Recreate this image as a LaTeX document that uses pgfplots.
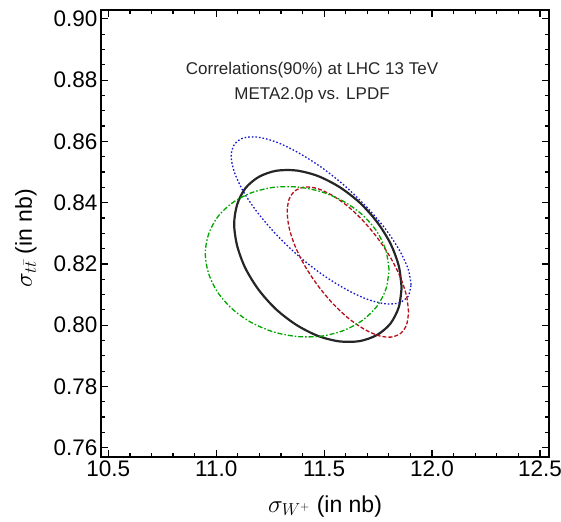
\documentclass[border=0pt]{standalone}
\usepackage{pgfplots}
\pgfplotsset{compat=1.18}
\usepackage{fontspec}
\setmainfont{Liberation Sans}
\definecolor{eblue}{rgb}{0.1,0.1,0.8}
\definecolor{ered}{rgb}{0.72,0.05,0.1}
\definecolor{egreen}{rgb}{0.0,0.65,0.0}
\begin{document}
\begin{tikzpicture}
\begin{axis}[
  scale only axis, width=448pt, height=447pt,
  xmin=10.466, xmax=12.542, ymin=0.75696, ymax=0.9029,
  axis line style={line width=1.6pt},
  tick align=inside, tick pos=both,
  major tick length=7pt, minor tick length=4pt,
  every tick/.style={black, line width=1.2pt},
  xtick={10.5,11,11.5,12,12.5},
  ytick={0.76,0.78,0.80,0.82,0.84,0.86,0.88,0.90},
  minor x tick num=4, minor y tick num=3,
  xticklabel style={/pgf/number format/.cd, fixed, fixed zerofill, precision=1},
  yticklabel style={/pgf/number format/.cd, fixed, fixed zerofill, precision=2},
  /pgf/number format/assume math mode=true,
  tick label style={font=\fontsize{22.5}{24}\selectfont, black},
  label style={font=\fontsize{23}{26}\selectfont},
  xlabel={$\sigma_{W^{+}}$ (in nb)},
  ylabel={$\sigma_{t\bar{t}}$ (in nb)},
  xlabel style={at={(axis description cs:0.5,-0.110)}, anchor=center},
  ylabel style={at={(axis description cs:-0.1674,0.49)}, anchor=center, rotate=0},
  clip=false,
]
% black: solid
\addplot[black!85, line width=2.2pt, smooth] coordinates {
(11.859,0.8122) (11.846,0.8193) (11.807,0.8267) (11.745,0.8337) (11.665,0.8400) (11.571,0.8451)
(11.471,0.8487) (11.371,0.8505) (11.277,0.8504) (11.197,0.8484) (11.135,0.8447) (11.097,0.8394)
(11.083,0.8330) (11.097,0.8259) (11.135,0.8186) (11.197,0.8115) (11.277,0.8052) (11.371,0.8001)
(11.471,0.7965) (11.571,0.7947) (11.665,0.7948) (11.745,0.7968) (11.807,0.8005) (11.846,0.8059)
(11.859,0.8122)};
% blue: dotted
\addplot[eblue, line width=1.3pt, dash pattern=on 1.6pt off 2pt, smooth] coordinates {
(11.903,0.8132) (11.889,0.8184) (11.847,0.8247) (11.781,0.8317) (11.694,0.8388) (11.594,0.8456)
(11.486,0.8516) (11.378,0.8564) (11.278,0.8598) (11.191,0.8614) (11.125,0.8611) (11.084,0.8590)
(11.069,0.8552) (11.084,0.8500) (11.125,0.8437) (11.191,0.8368) (11.278,0.8296) (11.378,0.8228)
(11.486,0.8168) (11.594,0.8120) (11.694,0.8086) (11.781,0.8070) (11.847,0.8073) (11.889,0.8094)
(11.903,0.8132)};
% red: dashed
\addplot[ered, line width=1.3pt, dash pattern=on 4pt off 2pt, smooth] coordinates {
(11.891,0.8042) (11.882,0.8095) (11.854,0.8155) (11.809,0.8219) (11.751,0.8281) (11.683,0.8339)
(11.610,0.8388) (11.537,0.8424) (11.469,0.8446) (11.411,0.8451) (11.366,0.8439) (11.338,0.8412)
(11.329,0.8370) (11.338,0.8317) (11.366,0.8257) (11.411,0.8193) (11.469,0.8131) (11.537,0.8073)
(11.610,0.8024) (11.683,0.7988) (11.751,0.7966) (11.809,0.7961) (11.854,0.7973) (11.882,0.8001)
(11.891,0.8042)};
% green: dash-dot
\addplot[egreen, line width=1.3pt, dash pattern=on 5pt off 2pt on 1.5pt off 2pt, smooth] coordinates {
(11.801,0.8180) (11.786,0.8244) (11.744,0.8306) (11.676,0.8361) (11.588,0.8405) (11.485,0.8436)
(11.375,0.8451) (11.265,0.8450) (11.162,0.8432) (11.074,0.8399) (11.006,0.8353) (10.964,0.8296)
(10.949,0.8234) (10.964,0.8170) (11.006,0.8108) (11.074,0.8053) (11.162,0.8009) (11.265,0.7978)
(11.375,0.7963) (11.485,0.7964) (11.588,0.7982) (11.676,0.8015) (11.744,0.8061) (11.786,0.8117)
(11.801,0.8180)};
\node[font=\fontsize{17}{20}\selectfont, black!85] at (axis cs:11.444,0.8833) {Correlations(90\%) at LHC 13 TeV};
\node[font=\fontsize{17}{20}\selectfont, black!85] at (axis cs:11.444,0.8749) {META2.0p vs. LPDF};
\end{axis}
\pgfresetboundingbox
\path ([xshift=-101pt,yshift=-64pt]current axis.south west) rectangle ([xshift=12pt,yshift=10pt]current axis.north east);
\end{tikzpicture}
\end{document}
